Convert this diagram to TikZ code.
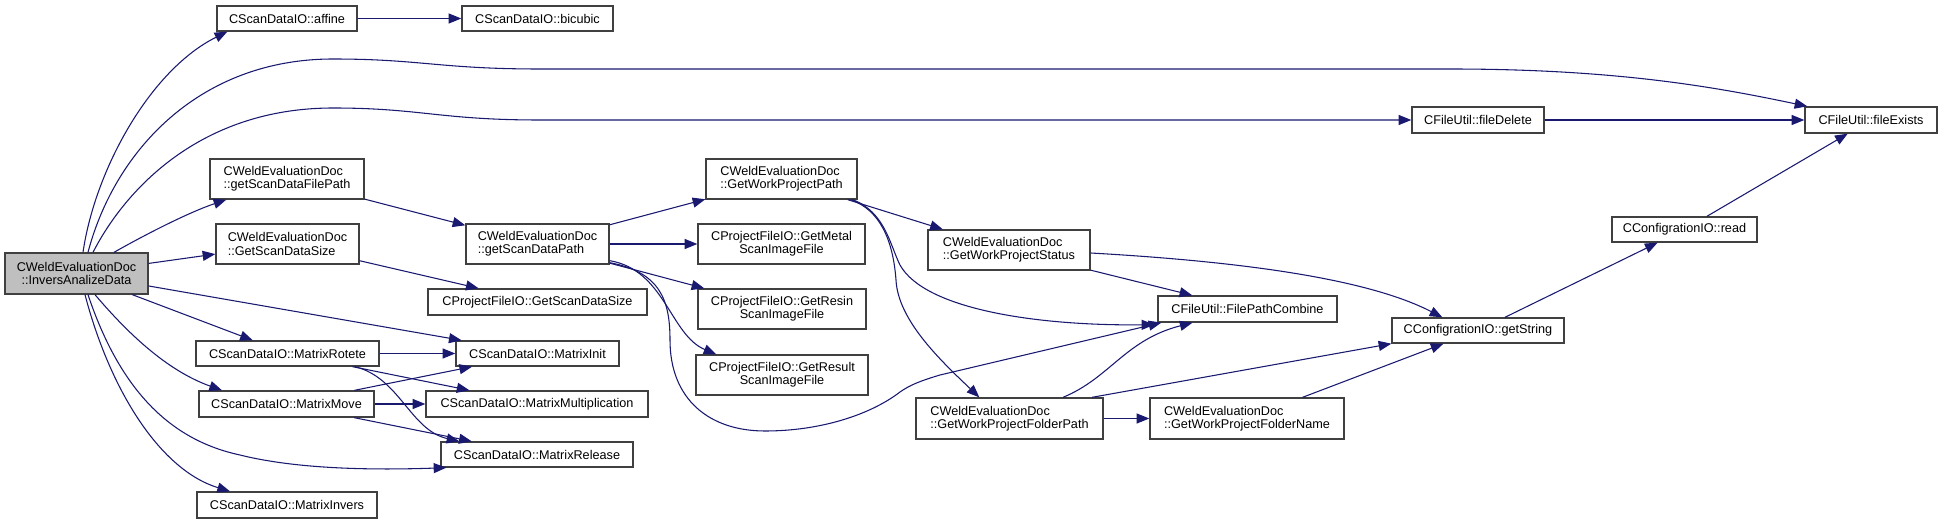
\documentclass[tikz,border=0pt]{standalone}
\usepackage{fontspec}
\setmainfont{Liberation Sans}
\usetikzlibrary{arrows.meta}
\definecolor{edgecol}{RGB}{25,25,112}
\definecolor{bordercol}{RGB}{64,64,64}
\definecolor{rootfill}{RGB}{191,191,191}
\tikzset{
  box/.style={draw=bordercol,line width=1pt,fill=white,inner sep=0pt,font=\fontsize{9.5}{10}\selectfont,align=left},
  cbox/.style={box,align=center},
  sz/.style 2 args={minimum width=#1*0.75pt,minimum height=#2*0.75pt},
  e/.style={draw=edgecol,line width=0.8pt,-{Triangle[length=9.5pt,width=7.5pt]}}
}
\begin{document}
\begin{tikzpicture}[x=0.75pt,y=-0.75pt]
\useasboundingbox (0,0) rectangle (1943,524);

% nodes
\node[cbox,fill=rootfill,sz={143}{41}] (Inv) at (76.5,273.5) {CWeldEvaluationDoc\\::InversAnalizeData};
\node[box,sz={140}{25}] (affine) at (287,18.5) {CScanDataIO::affine};
\node[box,sz={151}{25}] (bicubic) at (537.5,18.5) {CScanDataIO::bicubic};
\node[box,sz={154}{40}] (gsdfp) at (287,179) {CWeldEvaluationDoc\\::getScanDataFilePath};
\node[box,sz={143}{40}] (GSDS) at (287.5,244) {CWeldEvaluationDoc\\::GetScanDataSize};
\node[box,sz={143}{40}] (gsdp) at (537.5,244) {CWeldEvaluationDoc\\::getScanDataPath};
\node[box,sz={219}{26}] (pGSDS) at (537.5,302) {CProjectFileIO::GetScanDataSize};
\node[box,sz={183}{25}] (MRot) at (287.5,353.5) {CScanDataIO::MatrixRotete};
\node[box,sz={163}{25}] (MInit) at (537.5,353.5) {CScanDataIO::MatrixInit};
\node[box,sz={175}{26}] (MMove) at (286.5,404) {CScanDataIO::MatrixMove};
\node[box,sz={222}{26}] (MMul) at (537,404) {CScanDataIO::MatrixMultiplication};
\node[box,sz={192}{25}] (MRel) at (537,454.5) {CScanDataIO::MatrixRelease};
\node[box,sz={180}{26}] (MInv) at (287,505) {CScanDataIO::MatrixInvers};
\node[box,sz={151}{40}] (GWPP) at (781.5,179) {CWeldEvaluationDoc\\::GetWorkProjectPath};
\node[cbox,sz={167}{40}] (Metal) at (781.5,244) {CProjectFileIO::GetMetal\\ScanImageFile};
\node[cbox,sz={168}{40}] (Resin) at (782,309) {CProjectFileIO::GetResin\\ScanImageFile};
\node[cbox,sz={172}{40}] (Result) at (782,375) {CProjectFileIO::GetResult\\ScanImageFile};
\node[box,sz={162}{40}] (GWPS) at (1009,250) {CWeldEvaluationDoc\\::GetWorkProjectStatus};
\node[box,sz={187}{41}] (GWPFP) at (1009.5,418.5) {CWeldEvaluationDoc\\::GetWorkProjectFolderPath};
\node[box,sz={179}{26}] (FPC) at (1247.5,309) {CFileUtil::FilePathCombine};
\node[box,sz={194}{41}] (GWPFN) at (1247,418.5) {CWeldEvaluationDoc\\::GetWorkProjectFolderName};
\node[box,sz={172}{25}] (getString) at (1478,330.5) {CConfigrationIO::getString};
\node[box,sz={145}{25}] (read) at (1684.5,229.5) {CConfigrationIO::read};
\node[box,sz={132}{26}] (fileDelete) at (1478,120) {CFileUtil::fileDelete};
\node[box,sz={132}{26}] (fileExists) at (1871,120) {CFileUtil::fileExists};

% edges from root
\draw[e] ([shift={(6.5,0)}]Inv.north) .. controls (95,170) and (150,70) .. ([shift={(11,0)}]affine.south west);
\draw[e] ([shift={(11.5,0)}]Inv.north) .. controls (115,150) and (200,59) .. (333,59)
   .. controls (420,59) and (440,69) .. (540,69) -- (1450,69)
   .. controls (1620,69) and (1720,88) .. ([shift={(3,0)}]fileExists.north west);
\draw[e] ([shift={(16.5,0)}]Inv.north) .. controls (125,190) and (200,108) .. (333,108)
   .. controls (420,108) and (440,120) .. (540,120) -- (fileDelete.west);
\draw[e] (Inv) .. controls (150,232) and (190,212) .. (gsdfp);
\draw[e] (Inv) -- (GSDS);
\draw[e] (Inv) -- (MInit);
\draw[e] (Inv) -- (MRot);
\draw[e] ([shift={(18.5,0)}]Inv.south) .. controls (125,330) and (165,370) .. ([shift={(-64.5,0)}]MMove.north);
\draw[e] ([shift={(11.5,0)}]Inv.south) .. controls (120,390) and (170,440) .. (240,455)
   .. controls (300,470) and (380,470) .. ([shift={(6,0)}]MRel.south west);
\draw[e] ([shift={(8.5,0)}]Inv.south) .. controls (110,390) and (160,470) .. ([shift={(-57,0)}]MInv.north);

% other edges
\draw[e] (affine) -- (bicubic);
\draw[e] (fileDelete) -- (fileExists);
\draw[e] (gsdfp) -- (gsdp);
\draw[e] (GSDS) -- (pGSDS);
\draw[e] (MRot) -- (MInit);
\draw[e] (MRot) -- (MMul);
\draw[e] ([shift={(67.5,0)}]MRot.south) .. controls (400,378) and (410,430) .. ([shift={(19,0)}]MRel.north west);
\draw[e] (MMove) -- (MInit);
\draw[e] (MMove) -- (MMul);
\draw[e] (MMove) -- (MRel);
\draw[e] (gsdp) -- (GWPP);
\draw[e] (gsdp) -- (Metal);
\draw[e] (gsdp) -- (Resin);
\draw[e] ([shift={(0,-4)}]gsdp.south east) .. controls (665,270) and (670,335) .. ([shift={(21,0)}]Result.north west);
\draw[e] ([shift={(0,-2)}]gsdp.south east) .. controls (660,272) and (670,300) .. (670,340)
   .. controls (670,400) and (710,431) .. (765,431)
   .. controls (820,431) and (870,415) .. (900,392)
   .. controls (910,385) and (920,381) .. (940,375) -- ([shift={(4,0)}]FPC.south west);
\draw[e] (GWPP) -- (GWPS);
\draw[e] ([shift={(-5,0)}]GWPP.south east) .. controls (885,212) and (890,245) .. (900,265)
   .. controls (925,310) and (1040,326) .. ([shift={(-3,2)}]FPC.south west);
\draw[e] ([shift={(-7,0)}]GWPP.south east) .. controls (880,210) and (893,240) .. (896,280)
   .. controls (898,320) and (940,360) .. ([shift={(64,0)}]GWPFP.north west);
\draw[e] (GWPS) -- (FPC);
\draw[e] ([shift={(0,3)}]GWPS.east) .. controls (1250,262) and (1370,280) .. ([shift={(51,0)}]getString.north west);
\draw[e] ([shift={(53.5,0)}]GWPFP.north) .. controls (1110,378) and (1125,340) .. ([shift={(-55,0)}]FPC.south);
\draw[e] ([shift={(82.5,0)}]GWPFP.north) -- (getString.south west);
\draw[e] (GWPFP) -- (GWPFN);
\draw[e] (GWPFN) -- (getString);
\draw[e] (getString) -- (read);
\draw[e] (read) -- (fileExists);
\end{tikzpicture}
\end{document}
